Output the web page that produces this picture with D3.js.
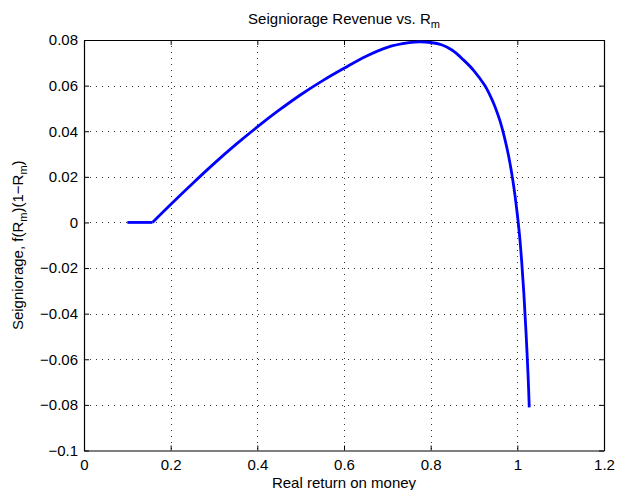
<!DOCTYPE html>
<html>
<head>
<meta charset="utf-8">
<script src="https://cdn.jsdelivr.net/npm/d3@7"></script>
<style>
  html, body { margin: 0; padding: 0; background: #fff; }
  svg { display: block; }
  text { font-family: "Liberation Sans", Arial, Helvetica, sans-serif; fill: #000; }
</style>
</head>
<body>
<svg id="chart" width="618" height="490"></svg>
<script>
// ---- data ----
const rm = [0.100, 0.158, 0.200, 0.250, 0.300, 0.350, 0.400, 0.450, 0.500, 0.550, 0.600, 0.650, 0.700, 0.750, 0.775, 0.800, 0.825, 0.850, 0.875, 0.900, 0.925, 0.940, 0.950, 0.960, 0.970, 0.980, 0.990, 1.000, 1.005, 1.010, 1.015, 1.020, 1.025, 1.0275];
const seigniorage = [0, 0, 0.0079, 0.0170, 0.0258, 0.0341, 0.0419, 0.0492, 0.0560, 0.0621, 0.0676, 0.0728, 0.0768, 0.0788, 0.0792, 0.0789, 0.0779, 0.0755, 0.0714, 0.0665, 0.0600, 0.0545, 0.0500, 0.0445, 0.0375, 0.0290, 0.0180, 0.0035, -0.0055, -0.0170, -0.0310, -0.0480, -0.0680, -0.0811];
const xTicks = [0, 0.2, 0.4, 0.6, 0.8, 1, 1.2];
const xTickLabels = ["0", "0.2", "0.4", "0.6", "0.8", "1", "1.2"];
const yTicks = [-0.1, -0.08, -0.06, -0.04, -0.02, 0, 0.02, 0.04, 0.06, 0.08];
const yTickLabels = ["\u22120.1", "\u22120.08", "\u22120.06", "\u22120.04", "\u22120.02", "0", "0.02", "0.04", "0.06", "0.08"];

const points = rm.map((r, i) => ({ x: r, y: seigniorage[i] }));
// the curve is flat (zero) up to the kink, then smooth
const kink = seigniorage.lastIndexOf(0, 2);
const flatPart = points.slice(0, kink + 1);
const curvedPart = points.slice(kink);

// ---- layout ----
const svg = d3.select("#chart");
const L = 84, R = 604, T = 40, B = 450.5;
const x = d3.scaleLinear().domain([0, 1.2]).range([L, R]);
const y = d3.scaleLinear().domain([-0.1, 0.08]).range([B, T]);
const FS = 15, SUB = 11;

// grid (dotted)
const grid = svg.append("g");
grid.selectAll("line.vg").data(xTicks.slice(1, -1)).enter().append("line")
  .attr("x1", d => Math.round(x(d)) + 0.5).attr("x2", d => Math.round(x(d)) + 0.5)
  .attr("y1", T).attr("y2", B)
  .attr("stroke", "#333").attr("stroke-width", 1).attr("stroke-dasharray", "1,5");
grid.selectAll("line.hg").data(yTicks.slice(1, -1)).enter().append("line")
  .attr("y1", d => Math.round(y(d)) + 0.5).attr("y2", d => Math.round(y(d)) + 0.5)
  .attr("x1", L).attr("x2", R)
  .attr("stroke", "#333").attr("stroke-width", 1).attr("stroke-dasharray", "1,5");

// axes with inward ticks on all four sides
const tickLen = 5;
const fmtX = d => xTickLabels[xTicks.indexOf(d)];
const fmtY = d => yTickLabels[yTicks.indexOf(d)];

const xAxisB = d3.axisBottom(x).tickValues(xTicks).tickFormat(fmtX).tickSizeInner(-tickLen).tickSizeOuter(0).tickPadding(9);
const xAxisT = d3.axisTop(x).tickValues(xTicks).tickFormat("").tickSizeInner(-tickLen).tickSizeOuter(0);
const yAxisL = d3.axisLeft(y).tickValues(yTicks).tickFormat(fmtY).tickSizeInner(-tickLen).tickSizeOuter(0).tickPadding(6);
const yAxisR = d3.axisRight(y).tickValues(yTicks).tickFormat("").tickSizeInner(-tickLen).tickSizeOuter(0);

function styleAxis(g) {
  g.selectAll("path.domain").attr("stroke", "#000").attr("stroke-width", 1.2);
  g.selectAll(".tick line").attr("stroke", "#000").attr("stroke-width", 1);
  g.selectAll(".tick text").attr("font-size", FS).attr("font-family", '"Liberation Sans", Arial, sans-serif').attr("fill", "#000");
}

svg.append("g").attr("transform", `translate(0,${B})`).call(xAxisB).call(styleAxis);
svg.append("g").attr("transform", `translate(0,${T})`).call(xAxisT).call(styleAxis);
svg.append("g").attr("transform", `translate(${L},0)`).call(yAxisL).call(styleAxis);
svg.append("g").attr("transform", `translate(${R},0)`).call(yAxisR).call(styleAxis);

// curve
const lineFlat = d3.line().x(d => x(d.x)).y(d => y(d.y)).curve(d3.curveLinear);
const lineCurve = d3.line().x(d => x(d.x)).y(d => y(d.y)).curve(d3.curveCatmullRom.alpha(0.5));
const curveG = svg.append("g")
  .attr("fill", "none").attr("stroke", "#0000ff").attr("stroke-width", 2.8)
  .attr("stroke-linejoin", "round");
curveG.append("path").datum(flatPart).attr("d", lineFlat);
curveG.append("path").datum(curvedPart).attr("d", lineCurve);

// title
const title = svg.append("text")
  .attr("x", (L + R) / 2).attr("y", 24)
  .attr("text-anchor", "middle").attr("font-size", FS);
title.append("tspan").text("Seigniorage Revenue vs. R");
title.append("tspan").attr("font-size", SUB).attr("dy", 4).text("m");

// x label
svg.append("text")
  .attr("x", (L + R) / 2).attr("y", 488)
  .attr("text-anchor", "middle").attr("font-size", FS)
  .text("Real return on money");

// y label
const yl = svg.append("text")
  .attr("transform", `translate(23,${(T + B) / 2}) rotate(-90)`)
  .attr("text-anchor", "middle").attr("font-size", FS);
yl.append("tspan").text("Seigniorage, f(R");
yl.append("tspan").attr("font-size", SUB).attr("dy", 4).text("m");
yl.append("tspan").attr("dy", -4).text(")(1\u2212R");
yl.append("tspan").attr("font-size", SUB).attr("dy", 4).text("m");
yl.append("tspan").attr("dy", -4).text(")");
</script>
</body>
</html>
